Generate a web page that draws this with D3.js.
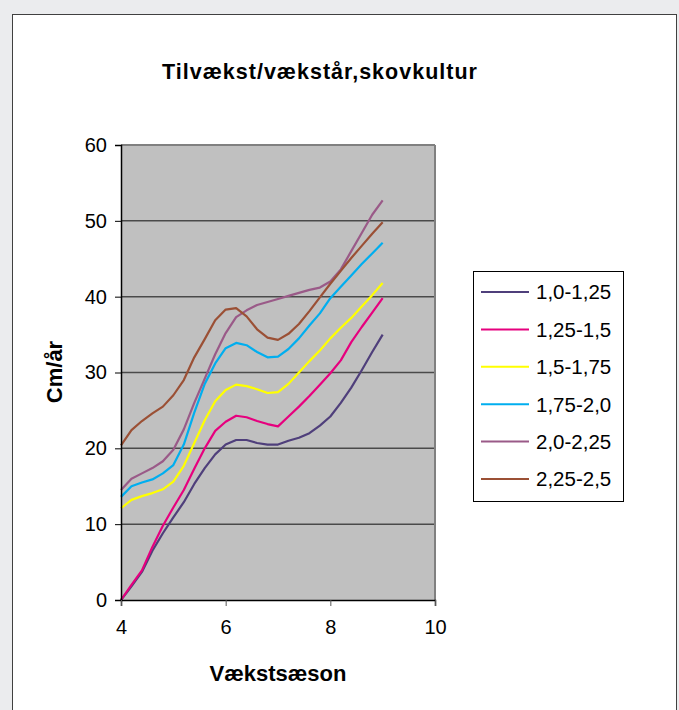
<!DOCTYPE html>
<html>
<head>
<meta charset="utf-8">
<script src="https://cdn.jsdelivr.net/npm/d3@7"></script>
<style>
  html, body { margin: 0; padding: 0; background: #ebecee; }
  svg { display: block; }
  text { font-family: "Liberation Sans", Arial, sans-serif; }
</style>
</head>
<body>
<div id="chart"></div>
<script>
// ---- data ----
const xValues = [4.0, 4.2, 4.4, 4.6, 4.8, 5.0, 5.2, 5.4, 5.6, 5.8, 6.0, 6.2, 6.4, 6.6, 6.8, 7.0, 7.2, 7.4, 7.6, 7.8, 8.0, 8.2, 8.4, 8.6, 8.8, 9.0];
const seriesNames = ["1,0-1,25", "1,25-1,5", "1,5-1,75", "1,75-2,0", "2,0-2,25", "2,25-2,5"];
const s1 = [0, 1.8, 3.7, 6.5, 8.8, 10.9, 12.9, 15.3, 17.4, 19.2, 20.5, 21.1, 21.1, 20.7, 20.5, 20.5, 21.0, 21.4, 22.0, 23.0, 24.2, 26.0, 28.0, 30.3, 32.7, 35.0];
const s2 = [0, 2.0, 3.9, 7.0, 9.8, 12.2, 14.5, 17.3, 20.0, 22.3, 23.5, 24.3, 24.1, 23.6, 23.2, 22.9, 24.2, 25.5, 26.9, 28.4, 29.9, 31.6, 34.0, 36.0, 37.9, 39.8];
const s3 = [12.1, 13.2, 13.7, 14.1, 14.6, 15.6, 17.7, 20.7, 23.7, 26.2, 27.7, 28.4, 28.2, 27.8, 27.3, 27.4, 28.5, 30.0, 31.5, 32.9, 34.5, 35.9, 37.2, 38.7, 40.2, 41.8];
const s4 = [13.6, 15.0, 15.5, 15.9, 16.7, 17.8, 20.5, 24.7, 28.5, 31.2, 33.2, 33.9, 33.6, 32.7, 32.0, 32.1, 33.1, 34.5, 36.2, 37.8, 39.8, 41.3, 42.8, 44.3, 45.7, 47.1];
const s5 = [14.5, 16.0, 16.7, 17.4, 18.3, 19.8, 22.5, 26.0, 29.2, 32.4, 35.2, 37.3, 38.2, 38.9, 39.3, 39.7, 40.1, 40.5, 40.9, 41.2, 42.0, 43.6, 46.0, 48.4, 50.8, 52.7];
const s6 = [20.4, 22.4, 23.6, 24.6, 25.5, 27.0, 29.0, 32.0, 34.4, 36.9, 38.3, 38.5, 37.4, 35.7, 34.6, 34.3, 35.1, 36.4, 38.1, 39.9, 41.7, 43.4, 45.1, 46.7, 48.3, 49.8];
const seriesValues = [s1, s2, s3, s4, s5, s6];
const xTicks = [4, 6, 8, 10];
const yTicks = [0, 10, 20, 30, 40, 50, 60];
const title = "Tilvækst/vækstår,skovkultur";
const xTitle = "Vækstsæson";
const yTitle = "Cm/år";

// ---- styles ----
const colors = ["#4f3f7b", "#e6007e", "#ffff00", "#00aeef", "#9a5a88", "#9b5035"];
const W = 679, H = 710;
const plot = { left: 121, right: 435, top: 145, bottom: 600 };

const svg = d3.select("#chart").append("svg").attr("width", W).attr("height", H);

// white chart area with border
svg.append("rect").attr("x", 12.5).attr("y", 14.5).attr("width", 664).attr("height", 710)
  .attr("fill", "#fff").attr("stroke", "#404040").attr("stroke-width", 1);

const x = d3.scaleLinear().domain([4, 10]).range([plot.left, plot.right]);
const y = d3.scaleLinear().domain([0, 60]).range([plot.bottom, plot.top]);

// plot background
svg.append("rect").attr("x", plot.left).attr("y", plot.top)
  .attr("width", plot.right - plot.left).attr("height", plot.bottom - plot.top)
  .attr("fill", "#c0c0c0");

// gridlines
svg.append("g").selectAll("line").data(yTicks.filter(d => d > 0 && d < 60)).join("line")
  .attr("x1", plot.left).attr("x2", plot.right)
  .attr("y1", d => y(d)).attr("y2", d => y(d))
  .attr("stroke", "#4a4a4a").attr("stroke-width", 1.5);

// plot top & right borders
svg.append("line").attr("x1", plot.left).attr("x2", plot.right).attr("y1", plot.top).attr("y2", plot.top)
  .attr("stroke", "#808080").attr("stroke-width", 2);
svg.append("line").attr("x1", plot.right).attr("x2", plot.right).attr("y1", plot.top).attr("y2", plot.bottom)
  .attr("stroke", "#808080").attr("stroke-width", 2);

// lines
const line = d3.line().x((d, i) => x(xValues[i])).y(d => y(d));
svg.append("g").selectAll("path").data(seriesValues).join("path")
  .attr("d", d => line(d))
  .attr("fill", "none")
  .attr("stroke", (d, i) => colors[i])
  .attr("stroke-width", 2.2)
  .attr("stroke-linejoin", "round");

// axes
const yAxis = d3.axisLeft(y).tickValues(yTicks).tickSize(6).tickPadding(8).tickFormat(d3.format("d"));
const gy = svg.append("g").attr("transform", `translate(${plot.left},0)`).call(yAxis);
gy.select(".domain").attr("stroke", "#000").attr("stroke-width", 1.5);
gy.selectAll(".tick line").attr("stroke", "#000");
gy.selectAll(".tick text").attr("font-size", 20).attr("fill", "#000")
  .style("font-family", "'Liberation Sans', Arial, sans-serif");

const xAxis = d3.axisBottom(x).tickValues(xTicks).tickSize(6).tickPadding(14).tickFormat(d3.format("d"));
const gx = svg.append("g").attr("transform", `translate(0,${plot.bottom})`).call(xAxis);
gx.select(".domain").attr("stroke", "#000").attr("stroke-width", 1.5);
gx.selectAll(".tick line").attr("stroke", "#555");
gx.selectAll(".tick text").attr("font-size", 20).attr("fill", "#000")
  .style("font-family", "'Liberation Sans', Arial, sans-serif");

// titles
svg.append("text").attr("x", 320).attr("y", 79).attr("text-anchor", "middle")
  .attr("font-size", 21.5).attr("font-weight", "bold").attr("letter-spacing", 1).text(title);
svg.append("text").attr("x", 278).attr("y", 681).attr("text-anchor", "middle")
  .attr("font-size", 22).attr("font-weight", "bold").text(xTitle);
svg.append("text").attr("transform", "translate(62,372) rotate(-90)").attr("text-anchor", "middle")
  .attr("font-size", 22).attr("font-weight", "bold").text(yTitle);

// legend
const lg = svg.append("g");
lg.append("rect").attr("x", 473.5).attr("y", 271.5).attr("width", 150).attr("height", 230)
  .attr("fill", "#fff").attr("stroke", "#000").attr("stroke-width", 1);
const ly = d3.scalePoint().domain(seriesNames).range([292, 479]);
const items = lg.selectAll("g.item").data(seriesNames).join("g").attr("class", "item")
  .attr("transform", d => `translate(0,${ly(d)})`);
items.append("line").attr("x1", 481).attr("x2", 529).attr("y1", 0).attr("y2", 0)
  .attr("stroke", (d, i) => colors[i]).attr("stroke-width", 2);
items.append("text").attr("x", 536).attr("y", 0).attr("dy", "0.36em")
  .attr("font-size", 20.5).text(d => d);
</script>
</body>
</html>
